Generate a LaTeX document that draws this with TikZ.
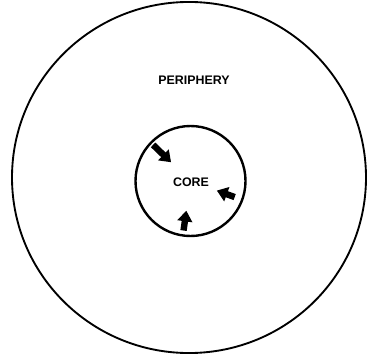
\documentclass[tikz,border=0pt]{standalone}
\usepackage{fontspec}
\newfontfamily\helv{Liberation Sans}
\usetikzlibrary{arrows.meta, calc, shapes.geometric}
\tikzset{
  ring/.style     = {draw=black, line width=1.4pt, inner sep=0pt},
  lbl/.style      = {font=\helv\bfseries\fontsize{9.3}{11}\selectfont},
  push/.style     = {-{Triangle[length=8pt, width=11pt]}, line width=4.8pt, black},
}
\begin{document}
\begin{tikzpicture}[x=0.75pt,y=0.75pt]
  \useasboundingbox (0,0) rectangle (367,361);
  \node[ring, ellipse, minimum width=265.5pt, minimum height=263.3pt] (periph) at (189,183.5) {};
  \node[ring, circle, line width=1.8pt, minimum size=82.5pt] (core) at (190.5,180) {};
  \node[lbl] (corelbl) at (191,179) {CORE};
  \node[lbl] (periphlbl) at (194,280.5) {PERIPHERY};
  % inward pushes
  \foreach \a/\r/\q in {136/52/27, -20/47/28, -98/50/30} {
    \draw[push] ($(core.center)+(\a:\r)$) -- ($(core.center)+(\a:\q)$);
  }
\end{tikzpicture}
\end{document}
